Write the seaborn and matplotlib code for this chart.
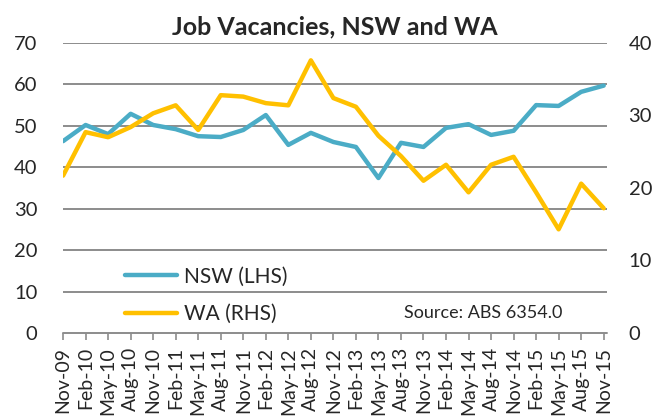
import pandas as pd
import seaborn as sns
import matplotlib.pyplot as plt
from matplotlib.lines import Line2D

quarters = ['Nov-09', 'Feb-10', 'May-10', 'Aug-10', 'Nov-10', 'Feb-11', 'May-11', 'Aug-11',
            'Nov-11', 'Feb-12', 'May-12', 'Aug-12', 'Nov-12', 'Feb-13', 'May-13', 'Aug-13',
            'Nov-13', 'Feb-14', 'May-14', 'Aug-14', 'Nov-14', 'Feb-15', 'May-15', 'Aug-15', 'Nov-15']
nsw = [46.3, 50.2, 48.0, 52.9, 50.2, 49.2, 47.5, 47.3, 49.0, 52.6, 45.4, 48.3, 46.1,
       44.9, 37.4, 45.9, 44.9, 49.5, 50.4, 47.8, 48.8, 55.0, 54.8, 58.2, 59.7]
wa = [21.7, 27.7, 27.0, 28.4, 30.3, 31.4, 28.0, 32.8, 32.6, 31.7, 31.4, 37.6, 32.4,
      31.2, 27.2, 24.4, 21.0, 23.2, 19.4, 23.2, 24.3, 19.4, 14.3, 20.6, 17.2]

nsw_color = '#4BACC6'
wa_color = '#FFC000'

df = pd.DataFrame({'quarter': quarters, 'pos': range(len(quarters)), 'NSW': nsw, 'WA': wa})

sns.set_style('white')
plt.rcParams['font.family'] = ['Lato', 'DejaVu Sans']

fig = plt.figure(figsize=(6.57, 4.17), dpi=100)
ax = fig.add_axes([0.096, 0.2014, 0.828, 0.6956])
ax2 = ax.twinx()

sns.lineplot(data=df, x='pos', y='NSW', ax=ax, color=nsw_color, linewidth=3.2, zorder=3)
sns.lineplot(data=df, x='pos', y='WA', ax=ax2, color=wa_color, linewidth=3.2, zorder=3)

ax.set_ylim(0, 70)
ax.set_yticks(range(0, 71, 10))
ax2.set_ylim(0, 40)
ax2.set_yticks(range(0, 41, 10))
ax.set_xlim(0, 24.15)
ax.set_xticks(df['pos'])
ax.set_xticklabels(quarters, rotation=90)
ax.set_xlabel('')
ax.set_ylabel('')
ax2.set_ylabel('')

# gridlines from the left axis only
for y in range(10, 71, 10):
    ax.axhline(y, color='#8c8c8c', linewidth=1.4, zorder=1)

for a in (ax, ax2):
    for s in ('top', 'left', 'right', 'bottom'):
        a.spines[s].set_visible(False)
ax.axhline(0, color='#8c8c8c', linewidth=1.4, zorder=2, clip_on=False)

ax.tick_params(axis='y', left=False, labelsize=14.5, pad=15)
ax2.tick_params(axis='y', right=False, labelsize=14.5, pad=12)
ax.tick_params(axis='x', bottom=True, length=5, width=1.2, color='#8c8c8c', labelsize=14, pad=5)

ax.set_title('Job Vacancies, NSW and WA', fontsize=18, fontweight='bold', pad=6)

handles = [Line2D([], [], color=nsw_color, linewidth=3.2),
           Line2D([], [], color=wa_color, linewidth=3.2)]
ax2.legend(handles, ['NSW (LHS)', 'WA (RHS)'], loc='lower left', bbox_to_anchor=(0.114, 0.03),
           borderaxespad=0, borderpad=0, frameon=False, fontsize=15, handlelength=2.5,
           labelspacing=0.85, handletextpad=0.35)

ax2.text(0.773, 0.07, 'Source: ABS 6354.0', transform=ax.transAxes, ha='center', va='center',
         fontsize=13)

fig.savefig('out.png', dpi=100)
